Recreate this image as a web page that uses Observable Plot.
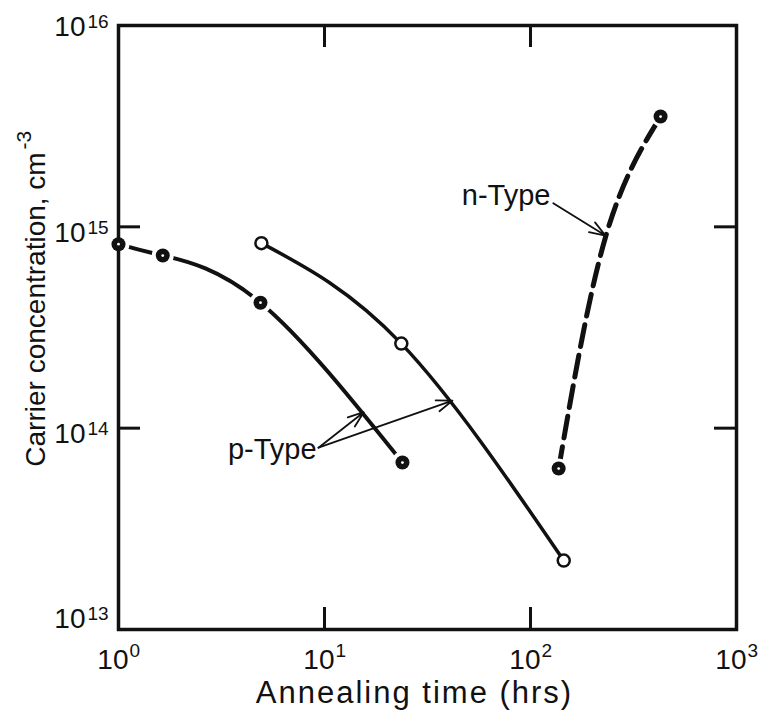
<!DOCTYPE html>
<html>
<head>
<meta charset="utf-8">
<script src="https://cdn.jsdelivr.net/npm/d3@7"></script>
<script src="https://cdn.jsdelivr.net/npm/@observablehq/plot@0.6"></script>
<style>
  body { margin: 0; background: #fff; }
</style>
</head>
<body>
<div id="chart"></div>
<script>
// ---- Axis ticks ----
const xTicks = [1, 10, 100, 1000];
const xExponents = ["0", "1", "2", "3"];
const yTicks = [1e13, 1e14, 1e15, 1e16];
const yExponents = ["13", "14", "15", "16"];
const innerXTicks = [10, 100];
const innerYTicks = [1e14, 1e15];

// ---- p-Type, filled markers (annealing time in hrs, carrier concentration in cm^-3) ----
const pFilledTime = [1.0, 1.64, 4.89, 23.9];
const pFilledConc = [8.2e14, 7.2e14, 4.2e14, 6.75e13];

// ---- p-Type, open markers ----
const pOpenTime = [4.94, 23.6, 145];
const pOpenConc = [8.3e14, 2.63e14, 2.2e13];

// ---- n-Type, filled markers ----
const nMarkerTime = [137, 428];
const nMarkerConc = [6.3e13, 3.53e15];
// n-Type dashed curve
const nCurveTime = [137, 231, 428];
const nCurveConc = [6.3e13, 8.85e14, 3.53e15];

// ---- Annotations ----
const labelText = ["p-Type", "n-Type"];
const labelTime = [9.15, 125];
const labelConc = [7.8e13, 1.42e15];
const arrowStartTime = [9.35, 9.35, 129];
const arrowStartConc = [8.0e13, 8.0e13, 1.31e15];
const arrowEndTime = [15.5, 41.8, 231];
const arrowEndConc = [1.2e14, 1.37e14, 9.05e14];

// ---- Titles ----
const xTitle = "Annealing time (hrs)";
const yTitle = "Carrier concentration, cm";
const yTitleExponent = "-3";

const zip = (xs, ys) => xs.map((x, i) => ({x, y: ys[i]}));
const pFilled = zip(pFilledTime, pFilledConc);
const pOpen = zip(pOpenTime, pOpenConc);
const nMarkers = zip(nMarkerTime, nMarkerConc);
const nCurve = zip(nCurveTime, nCurveConc);
const labels = labelText.map((t, i) => ({t, x: labelTime[i], y: labelConc[i]}));
const arrows = arrowStartTime.map((x1, i) => ({x1, y1: arrowStartConc[i], x2: arrowEndTime[i], y2: arrowEndConc[i]}));
const xLab = xTicks.map((v, i) => ({v, e: xExponents[i]}));
const yLab = yTicks.map((v, i) => ({v, e: yExponents[i]}));

const W = 764, H = 713;
const mL = 118, mR = 28, mT = 25, mB = 84;
const innerW = W - mL - mR, innerH = H - mT - mB;
const tickLen = 22;
const ink = "#111";

function yLabels(filter, dy) {
  return [
    Plot.text(yLab, {filter, y: "v", text: () => "10", frameAnchor: "left", textAnchor: "end",
      lineAnchor: "bottom", dx: -33, dy, fontSize: 28, fill: ink}),
    Plot.text(yLab, {filter, y: "v", text: "e", frameAnchor: "left", textAnchor: "start",
      lineAnchor: "bottom", dx: -31, dy: dy - 8, fontSize: 19, fill: ink})
  ];
}

const chart = Plot.plot({
  width: W, height: H,
  marginLeft: mL, marginRight: mR, marginTop: mT, marginBottom: mB,
  x: {type: "log", domain: [1, 1000], axis: null},
  y: {type: "log", domain: [1e13, 1e16], axis: null},
  style: {fontFamily: "'Liberation Sans', Arial, sans-serif", background: "#fff", color: ink},
  marks: [
    // curves
    Plot.line(pFilled, {x: "x", y: "y", curve: "natural", stroke: ink, strokeWidth: 4}),
    Plot.line(pOpen, {x: "x", y: "y", curve: "natural", stroke: ink, strokeWidth: 3.5}),
    Plot.line(nCurve, {x: "x", y: "y", curve: "natural", stroke: ink, strokeWidth: 5, strokeDasharray: "22,9"}),
    // white halos around filled markers (gaps in the curves)
    Plot.dot(pFilled, {x: "x", y: "y", r: 11, fill: "#fff", stroke: "none"}),
    Plot.dot(nMarkers, {x: "x", y: "y", r: 10, fill: "#fff", stroke: "none"}),
    // frame and inward ticks
    Plot.frame({stroke: ink, strokeWidth: 3.5}),
    Plot.tickX(innerXTicks, {x: d => d, insetTop: innerH - tickLen, stroke: ink, strokeWidth: 3}),
    Plot.tickX(innerXTicks, {x: d => d, insetBottom: innerH - tickLen, stroke: ink, strokeWidth: 3}),
    Plot.tickY(innerYTicks, {y: d => d, insetRight: innerW - tickLen, stroke: ink, strokeWidth: 3}),
    Plot.tickY(innerYTicks, {y: d => d, insetLeft: innerW - tickLen, stroke: ink, strokeWidth: 3}),
    // markers
    Plot.dot(pFilled, {x: "x", y: "y", r: 7, fill: ink, stroke: "none"}),
    Plot.dot(pFilled, {x: "x", y: "y", r: 1.4, fill: "#fff", stroke: "none"}),
    Plot.dot(nMarkers, {x: "x", y: "y", r: 7, fill: ink, stroke: "none"}),
    Plot.dot(nMarkers, {x: "x", y: "y", r: 1.4, fill: "#fff", stroke: "none"}),
    Plot.dot(pOpen, {x: "x", y: "y", r: 6, fill: "#fff", stroke: ink, strokeWidth: 2.5}),
    // annotations
    Plot.arrow(arrows, {x1: "x1", y1: "y1", x2: "x2", y2: "y2", stroke: ink, strokeWidth: 1.8,
      headLength: 14, headAngle: 40}),
    Plot.text(labels, {x: "x", y: "y", text: "t", textAnchor: "end", lineAnchor: "middle",
      fontSize: 29, fill: ink}),
    // x tick labels
    Plot.text(xLab, {x: "v", text: () => "10", frameAnchor: "bottom", textAnchor: "end",
      lineAnchor: "bottom", dx: 10, dy: 39, fontSize: 28, fill: ink}),
    Plot.text(xLab, {x: "v", text: "e", frameAnchor: "bottom", textAnchor: "start",
      lineAnchor: "bottom", dx: 11, dy: 27, fontSize: 19, fill: ink}),
    // y tick labels
    ...yLabels(d => d.v === 1e16, 10),
    ...yLabels(d => d.v === 1e14 || d.v === 1e15, 15),
    ...yLabels(d => d.v === 1e13, -2),
    // axis titles
    Plot.text([xTitle], {text: d => d, frameAnchor: "bottom", textAnchor: "middle", lineAnchor: "bottom",
      dx: -13, dy: 73, fontSize: 31, fill: ink}),
    Plot.text([yTitle], {text: d => d, frameAnchor: "left", textAnchor: "middle", lineAnchor: "bottom",
      rotate: -90, dx: -74, dy: -18, fontSize: 28, fill: ink}),
    Plot.text([yTitleExponent], {text: d => d, frameAnchor: "left", textAnchor: "start", lineAnchor: "bottom",
      rotate: -90, dx: -88, dy: -178, fontSize: 21, fill: ink})
  ]
});

d3.select(chart).selectAll("text").filter(function () { return this.textContent === xTitle; })
  .attr("letter-spacing", "2px");

document.getElementById("chart").appendChild(chart);
</script>
</body>
</html>
